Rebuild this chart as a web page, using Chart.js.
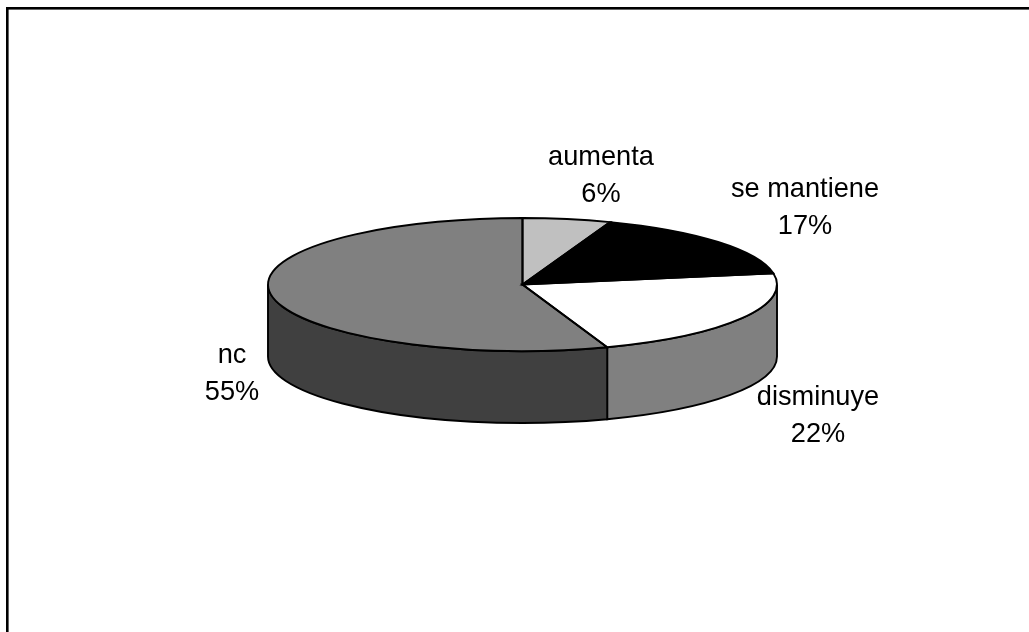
<!DOCTYPE html>
<html>
<head>
<meta charset="utf-8">
<title>Pie</title>
<style>
  html, body { margin: 0; padding: 0; background: #fff; overflow: hidden; }
  canvas { display: block; }
</style>
<script src="https://cdn.jsdelivr.net/npm/chart.js@4"></script>
</head>
<body>
<canvas id="pie" width="1029" height="632"></canvas>
<script>
const categories = ["aumenta", "se mantiene", "disminuye", "nc"];
const values = [5.6, 16.7, 22.3, 55.4];
const topColors = ["#c0c0c0", "#000000", "#ffffff", "#808080"];
const sideColors = ["#606060", "#000000", "#808080", "#404040"];

// where each label goes: centre x, baseline of first line
const labelSpots = [[601, 165], [805, 197], [818, 405], [232, 363]];

const squash = 0.2613;   // flattens the pie into an ellipse
const depth = 72;        // height of the wall
const lineGap = 36.5;

const total = values.reduce((a, b) => a + b, 0);

// canvas angle ranges of a slice that face the viewer (0..PI is the front)
function frontPart(a0, a1) {
    const tau = Math.PI * 2;
    let parts = [];
    for (const shift of [-tau, 0, tau]) {
        const s = Math.max(a0, shift);
        const e = Math.min(a1, shift + Math.PI);
        if (e > s) parts.push([s, e]);
    }
    return parts;
}

const pie3d = {
    id: "pie3d",
    beforeDatasetsDraw(chart) {
        const ctx = chart.ctx;
        const arcs = chart.getDatasetMeta(0).data;

        // frame, only top and left
        ctx.save();
        ctx.fillStyle = "#000";
        ctx.fillRect(6, 7, 1023, 2.6);
        ctx.fillRect(6, 7, 2.6, 625);
        ctx.restore();

        // walls
        arcs.forEach((arc, i) => {
            const p = arc.getProps(["x", "y", "startAngle", "endAngle", "outerRadius"], true);
            const ry = p.outerRadius * squash;
            frontPart(p.startAngle, p.endAngle).forEach(([s, e]) => {
                ctx.beginPath();
                ctx.ellipse(p.x, p.y, p.outerRadius, ry, 0, s, e);
                ctx.ellipse(p.x, p.y + depth, p.outerRadius, ry, 0, e, s, true);
                ctx.closePath();
                ctx.fillStyle = sideColors[i];
                ctx.fill();
                ctx.lineWidth = 1.9;
                ctx.strokeStyle = "#000";
                ctx.stroke();
            });
        });

        // the library's own arcs, flattened
        const first = arcs[0].getProps(["x", "y"], true);
        ctx.save();
        ctx.translate(first.x, first.y);
        ctx.scale(1, squash);
        ctx.translate(-first.x, -first.y);
    },
    afterDatasetsDraw(chart) {
        const ctx = chart.ctx;
        ctx.restore();

        // outlines are stroked unscaled so the line stays even
        chart.getDatasetMeta(0).data.forEach((arc) => {
            const p = arc.getProps(["x", "y", "startAngle", "endAngle", "outerRadius"], true);
            ctx.beginPath();
            ctx.moveTo(p.x, p.y);
            ctx.ellipse(p.x, p.y, p.outerRadius, p.outerRadius * squash, 0, p.startAngle, p.endAngle);
            ctx.closePath();
            ctx.lineWidth = 1.9;
            ctx.strokeStyle = "#000";
            ctx.stroke();
        });

        // labels
        ctx.save();
        ctx.fillStyle = "#000";
        ctx.font = '27.2px "Liberation Sans"';
        ctx.textAlign = "center";
        ctx.textBaseline = "alphabetic";
        categories.forEach((name, i) => {
            const pct = Math.round(values[i] / total * 100) + "%";
            ctx.fillText(name, labelSpots[i][0], labelSpots[i][1]);
            ctx.fillText(pct, labelSpots[i][0], labelSpots[i][1] + lineGap);
        });
        ctx.restore();
    }
};

new Chart(document.getElementById("pie"), {
    type: "pie",
    plugins: [pie3d],
    data: {
        labels: categories,
        datasets: [{
            data: values,
            backgroundColor: topColors,
            borderWidth: 0,
            hoverOffset: 0,
            clip: false
        }]
    },
    options: {
        responsive: false,
        animation: false,
        layout: { padding: { top: 30, bottom: 93, left: 16, right: 0 } },
        plugins: {
            legend: { display: false },
            tooltip: { enabled: false }
        }
    }
});
</script>
</body>
</html>
